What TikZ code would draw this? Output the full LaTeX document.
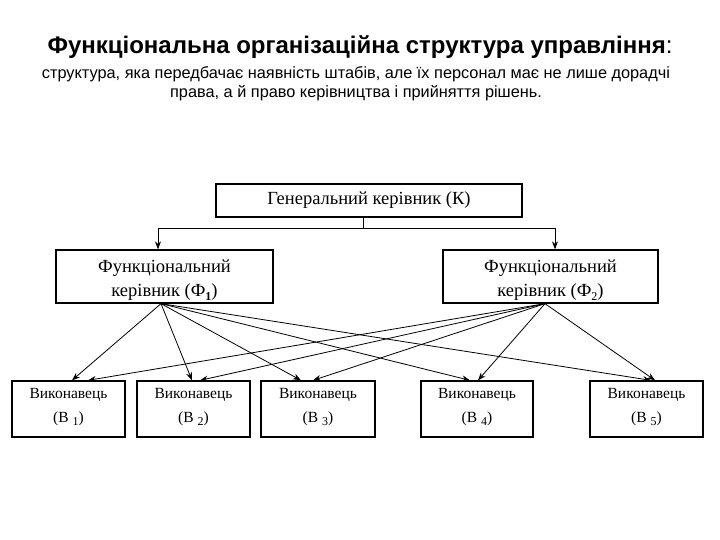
\documentclass[tikz,border=0pt]{standalone}
\usepackage{fontspec}
\setmainfont{Liberation Serif}
\newfontfamily\arialf{Liberation Sans}
\usetikzlibrary{arrows.meta,calc}
\newcommand{\lowsub}[1]{\raisebox{-0.4ex}{\fontsize{12}{12}\selectfont #1}}
\newcommand{\shiftedtext}[2]{\raisebox{#1}[0pt][0pt]{\begin{tabular}{@{}c@{}}#2\end{tabular}}}
\begin{document}
\begin{tikzpicture}[x=1pt,y=-1pt,
  box/.style={draw, line width=1.3pt, inner sep=0pt, align=center, font=\fontsize{18.5}{24}\selectfont},
  exbox/.style={box, minimum height=56pt, font=\fontsize{15.5}{24}\selectfont},
  conn/.style={line width=0.8pt},
  arr/.style={conn, -{Stealth[length=8pt,width=6pt]}}]
\useasboundingbox (0,0) rectangle (720,540);
\node[font=\arialf\bfseries\fontsize{24}{28}\selectfont] (title) at (360,47)
  {Функціональна організаційна структура управління\mdseries :};
\node[font=\arialf\fontsize{16.3}{19}\selectfont, align=center] (sub) at (356,84)
  {структура, яка передбачає наявність штабів, але їх персонал має не лише дорадчі\\
   права, а й право керівництва і прийняття рішень.};
\node[box, minimum width=306pt, minimum height=33pt] (K) at (369,200.5) {Генеральний керівник (К)};
\node[box, minimum width=217pt, minimum height=53pt] (F1) at (164.5,276.5)
  {\shiftedtext{-8pt}{Функціональний\\керівник (Ф\lowsub{\bfseries 1})}};
\node[box, minimum width=215pt, minimum height=53pt] (F2) at (550.5,276.5)
  {\shiftedtext{-8pt}{Функціональний\\керівник (Ф\lowsub{2})}};
\node[exbox, minimum width=113pt] (B1) at (68.5,409) {\shiftedtext{0pt}{Виконавець\\(В \lowsub{1})}};
\node[exbox, minimum width=113pt] (B2) at (193.5,409) {\shiftedtext{0pt}{Виконавець\\(В \lowsub{2})}};
\node[exbox, minimum width=114pt] (B3) at (318,409) {\shiftedtext{0pt}{Виконавець\\(В \lowsub{3})}};
\node[exbox, minimum width=112pt] (B4) at (477,409) {\shiftedtext{0pt}{Виконавець\\(В \lowsub{4})}};
\node[exbox, minimum width=113pt] (B5) at (646.5,409) {\shiftedtext{0pt}{Виконавець\\(В \lowsub{5})}};
\draw[conn] ([xshift=-6pt]K.south) -- ++(0,11) coordinate (j);
\draw[arr] (j) -| ([xshift=-6.5pt]F1.north);
\draw[arr] (j) -| ([xshift=4.5pt]F2.north);
\coordinate (f1s) at ([xshift=-3.5pt]F1.south);
\coordinate (f2s) at ([xshift=-5.5pt]F2.south);
\foreach \b/\a/\c in {B1/3.5/19.5, B2/-1.5/6.5, B3/-17/-5, B4/-7/1, B5/4.5/8.5} {
  \draw[arr] (f1s) -- ([xshift=\a pt]\b.north);
  \draw[arr] (f2s) -- ([xshift=\c pt]\b.north);
}
\end{tikzpicture}
\end{document}
